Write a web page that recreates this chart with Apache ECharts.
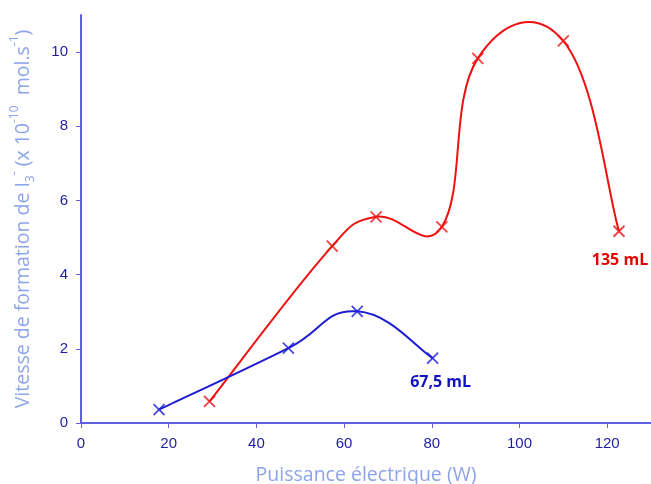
<!DOCTYPE html>
<html>
<head>
<meta charset="utf-8">
<script src="https://cdn.jsdelivr.net/npm/echarts@6/dist/echarts.min.js"></script>
<style>html,body{margin:0;padding:0;background:#fff;}#c{width:651px;height:484px;}</style>
</head>
<body>
<div id="c"></div>
<script>
// Data
const xBlue = [17.8, 47.3, 63.0, 80.2];
const yBlue = [0.36, 2.02, 3.01, 1.75];
const xRed = [29.3, 57.3, 67.3, 82.3, 90.5, 110.0, 122.7];
const yRed = [0.58, 4.77, 5.56, 5.29, 9.83, 10.30, 5.17];
const labelBlue = '67,5 mL';
const labelRed = '135 mL';
const xTicks = [0, 20, 40, 60, 80, 100, 120];
const yTicks = [0, 2, 4, 6, 8, 10];
const xTitle = 'Puissance électrique (W)';

const AXIS = '#5f5fe0';
const TICKTXT = '#1c1ca4';
const TITLE = '#8ea4e8';
const BLUE = '#1c1cd2';
const RED = '#f01010';
const BLUE_TXT = '#1010c4';
const RED_TXT = '#e80000';
const FONT = 'Open Sans';
const cross = 'path://M0,0 L10,10 M10,0 L0,10';
const K = 0.23;      // smoothing tangent factor
const CLAMP = 0.5;   // max control length relative to segment chord

// smooth curve through the data points (segment i -> i+1), positioned via axis scales
function curveSeries(xs, ys, color) {
  return {
    type: 'custom',
    coordinateSystem: 'cartesian2d',
    data: xs.slice(0, -1).map((x, i) => [x, ys[i]]),
    encode: { x: 0, y: 1 },
    clip: false,
    silent: true,
    z: 1,
    renderItem: function (params, api) {
      const i = params.dataIndex;
      const n = xs.length;
      const P = j => { const k = Math.max(0, Math.min(n - 1, j)); return api.coord([xs[k], ys[k]]); };
      const p0 = P(i - 1), p1 = P(i), p2 = P(i + 1), p3 = P(i + 2);
      const chord = Math.hypot(p2[0] - p1[0], p2[1] - p1[1]);
      function ctrl(base, a, b, sign) {
        let dx = K * (b[0] - a[0]), dy = K * (b[1] - a[1]);
        const len = Math.hypot(dx, dy);
        const maxLen = CLAMP * chord;
        if (len > maxLen && len > 0) { dx *= maxLen / len; dy *= maxLen / len; }
        return [base[0] + sign * dx, base[1] + sign * dy];
      }
      const c1 = ctrl(p1, p0, p2, 1);
      const c2 = ctrl(p2, p1, p3, -1);
      return {
        type: 'bezierCurve',
        shape: { x1: p1[0], y1: p1[1], x2: p2[0], y2: p2[1], cpx1: c1[0], cpy1: c1[1], cpx2: c2[0], cpy2: c2[1] },
        style: { stroke: color, lineWidth: 2, fill: null }
      };
    }
  };
}

function markers(xs, ys, label, color, txtColor, offset) {
  return {
    type: 'scatter',
    symbol: cross, symbolSize: 11,
    itemStyle: { color: color, borderColor: color, borderWidth: 1.8 },
    z: 3,
    data: xs.map((x, i) => {
      const d = { value: [x, ys[i]] };
      if (i === xs.length - 1) {
        d.label = {
          show: true, formatter: label, position: 'inside', offset: offset,
          color: txtColor, fontWeight: 'bold', fontSize: 16, textBorderWidth: 0,
          textBorderColor: 'transparent', opacity: 1,
          fontFamily: FONT, align: 'center', verticalAlign: 'middle'
        };
      }
      return d;
    })
  };
}

const chart = echarts.init(document.getElementById('c'), null, { renderer: 'canvas' });
chart.setOption({
  animation: false,
  backgroundColor: '#ffffff',
  grid: { left: 81, right: 0, top: 15, bottom: 61, containLabel: false, outerBoundsMode: 'none' },
  xAxis: {
    type: 'value', min: 0, max: 130,
    axisLine: { show: true, lineStyle: { color: AXIS, width: 2 } },
    axisTick: { show: true, customValues: xTicks, length: 5, lineStyle: { color: AXIS, width: 1 } },
    axisLabel: { customValues: xTicks, color: TICKTXT, fontSize: 15, fontFamily: 'Liberation Sans', margin: 13 },
    splitLine: { show: false },
    name: xTitle, nameLocation: 'middle', nameGap: 42,
    nameTextStyle: { color: TITLE, fontSize: 19.5, fontFamily: FONT }
  },
  yAxis: {
    type: 'value', min: 0, max: 11,
    axisLine: { show: true, lineStyle: { color: AXIS, width: 2 } },
    axisTick: { show: true, customValues: yTicks, length: 5, lineStyle: { color: AXIS, width: 1 } },
    axisLabel: { customValues: yTicks, color: TICKTXT, fontSize: 15, fontFamily: 'Liberation Sans', margin: 13 },
    splitLine: { show: false },
    name: '{t|Vitesse de formation de I}{sub|3}{sup|-}{t| (x 10}{sup|-10}{t|  mol.s}{sup|-1}{t|)}',
    nameLocation: 'middle', nameGap: 44,
    nameTextStyle: {
      color: TITLE, fontSize: 19.5, fontFamily: FONT,
      rich: {
        t: { color: TITLE, fontSize: 19.5, fontFamily: FONT, lineHeight: 28, verticalAlign: 'middle' },
        sup: { color: TITLE, fontSize: 12, fontFamily: FONT, lineHeight: 28, verticalAlign: 'top' },
        sub: { color: TITLE, fontSize: 12, fontFamily: FONT, lineHeight: 28, verticalAlign: 'bottom' }
      }
    }
  },
  series: [
    curveSeries(xRed, yRed, RED),
    curveSeries(xBlue, yBlue, BLUE),
    markers(xRed, yRed, labelRed, RED, RED_TXT, [1, 29]),
    markers(xBlue, yBlue, labelBlue, BLUE, BLUE_TXT, [8, 24])
  ]
});
</script>
</body>
</html>
